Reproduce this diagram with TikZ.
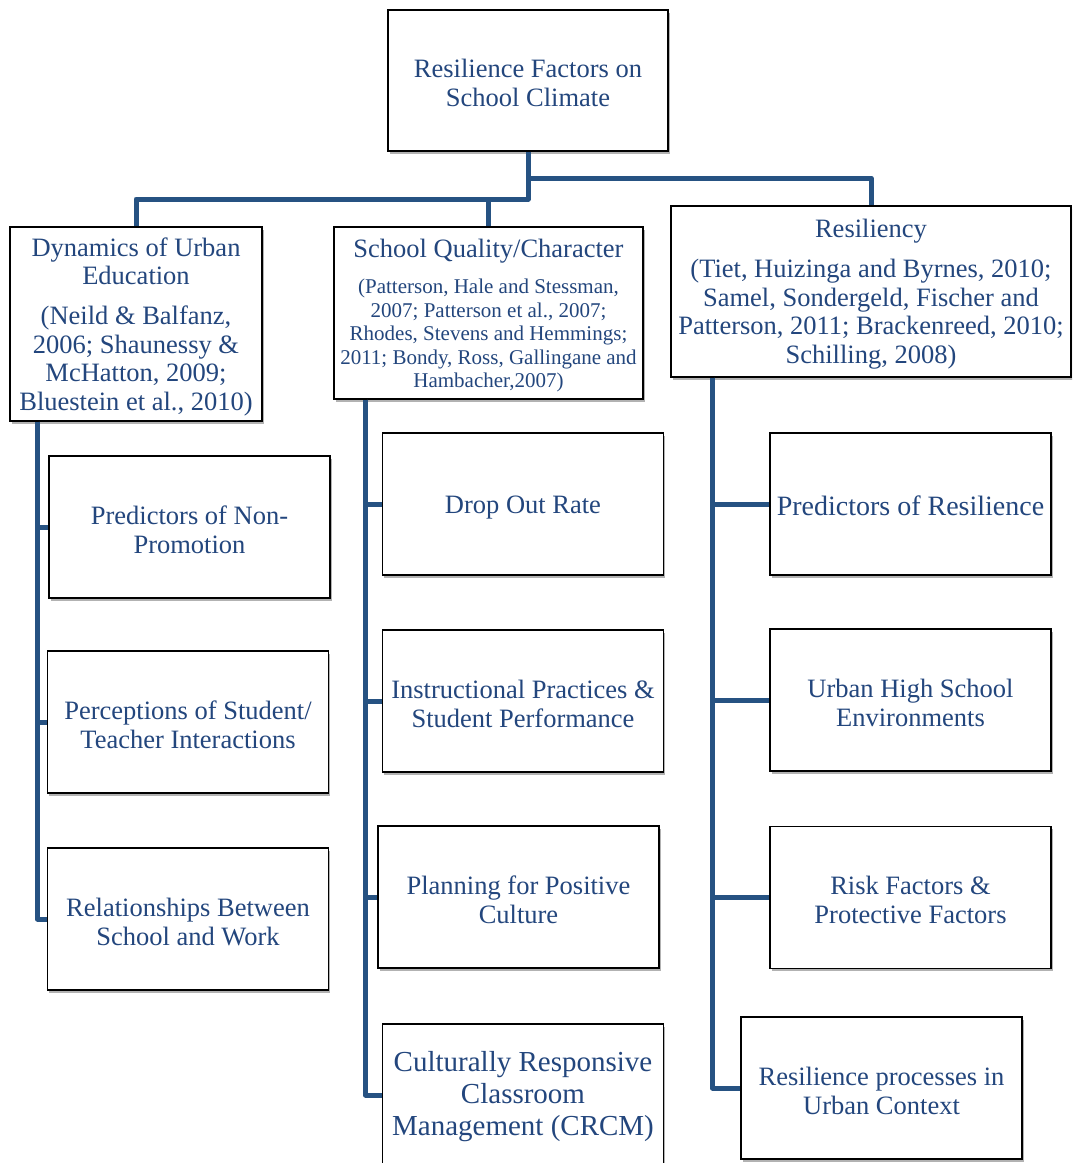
\documentclass[tikz,border=0pt]{standalone}
\usepackage{fontspec}
\setmainfont{Liberation Serif}
\usetikzlibrary{shadows}
\definecolor{boxtext}{RGB}{35,70,125}
\definecolor{branchblue}{RGB}{38,82,130}
\frenchspacing

\begin{document}
\begin{tikzpicture}[
            x=1pt, y=-1pt,
            font=\fontsize{26.5}{29}\selectfont,
            box/.style={rectangle, draw=black, line width=1.3pt, fill=white, text=boxtext, align=flush center, inner sep=2pt, execute at begin node={\rule{0pt}{24pt}}, drop shadow={shadow xshift=1.5pt, shadow yshift=-2.5pt, opacity=0.3, fill=black}},
            leaf/.style={box, minimum width=281pt, minimum height=142pt, text width=275pt},
            branch/.style={line width=5pt, draw=branchblue, line join=round}
        ]
        \useasboundingbox (0,0) rectangle (1072,1163);
        \clip (0,0) rectangle (1072,1163);

        % Nodes
        \node (top) [box, minimum width=280pt, minimum height=141pt, text width=274pt] at (528,80.5) {Resilience Factors on\\School Climate};

        \node (dyn) [box, minimum width=252pt, minimum height=194pt, text width=248pt, font=\fontsize{26.5}{28.5}\selectfont] at (136,324) {Dynamics of Urban\\Education\\[11.5pt](Neild \& Balfanz,\\2006; Shaunessy \&\\McHatton, 2009;\\Bluestein et al., 2010)};
        \node (qual) [box, minimum width=309pt, minimum height=172pt, text width=305pt] at (488.5,313) {School Quality/Character\par\vspace{12.5pt}\fontsize{21}{23.5}\selectfont(Patterson, Hale and Stessman,\\2007; Patterson et al., 2007;\\Rhodes, Stevens and Hemmings;\\2011; Bondy, Ross, Gallingane and\\Hambacher,2007)\par};
        \node (res) [box, minimum width=400pt, minimum height=171pt, text width=396pt, font=\fontsize{26.5}{28.7}\selectfont] at (871,291.5) {Resiliency\\[11pt](Tiet, Huizinga and Byrnes, 2010;\\Samel, Sondergeld, Fischer and\\Patterson, 2011; Brackenreed, 2010;\\Schilling, 2008)};

        \node (pnp) [leaf] at (189.5,527) {Predictors of Non-\\Promotion};
        \node (pst) [leaf] at (188,722) {Perceptions of Student/\\Teacher Interactions};
        \node (rsw) [leaf] at (188,919) {Relationships Between\\School and Work};

        \node (dor) [leaf] at (523,504) {Drop Out Rate};
        \node (ipsp) [leaf] at (523,701) {Instructional Practices \&\\Student Performance};
        \node (ppc) [leaf] at (518.5,897) {Planning for Positive\\Culture};
        \node (crcm) [leaf, font=\fontsize{29}{32}\selectfont] at (523,1095) {Culturally Responsive\\Classroom\\Management (CRCM)};

        \node (por) [leaf, font=\fontsize{28}{30}\selectfont] at (910.5,504) {Predictors of Resilience};
        \node (uhs) [leaf] at (910.5,700) {Urban High School\\Environments};
        \node (rfpf) [leaf] at (910.5,897.5) {Risk Factors \&\\Protective Factors};
        \node (rpuc) [leaf] at (881.5,1088) {Resilience processes in\\Urban Context};

        % Connections
        \coordinate (jr) at (528,178);
        \coordinate (jl) at (528,199);
        \draw [branch] (top.south) -- (jl) -| (dyn.north);
        \draw [branch] (jl) -| (qual.north);
        \draw [branch] (jr) -| (res.north);

        \coordinate (lspine) at ([xshift=28pt]dyn.south west);
        \draw [branch] (lspine) |- (pnp.west);
        \draw [branch] (lspine) |- (pst.west);
        \draw [branch] (lspine) |- (rsw.west);

        \coordinate (mspine) at ([xshift=32pt]qual.south west);
        \draw [branch] (mspine) |- (dor.west);
        \draw [branch] (mspine) |- (ipsp.west);
        \draw [branch] (mspine) |- (ppc.west);
        \draw [branch] (mspine) |- (crcm.west);

        \coordinate (rspine) at ([xshift=42pt]res.south west);
        \draw [branch] (rspine) |- (por.west);
        \draw [branch] (rspine) |- (uhs.west);
        \draw [branch] (rspine) |- (rfpf.west);
        \draw [branch] (rspine) |- (rpuc.west);

    \end{tikzpicture}
\end{document}
